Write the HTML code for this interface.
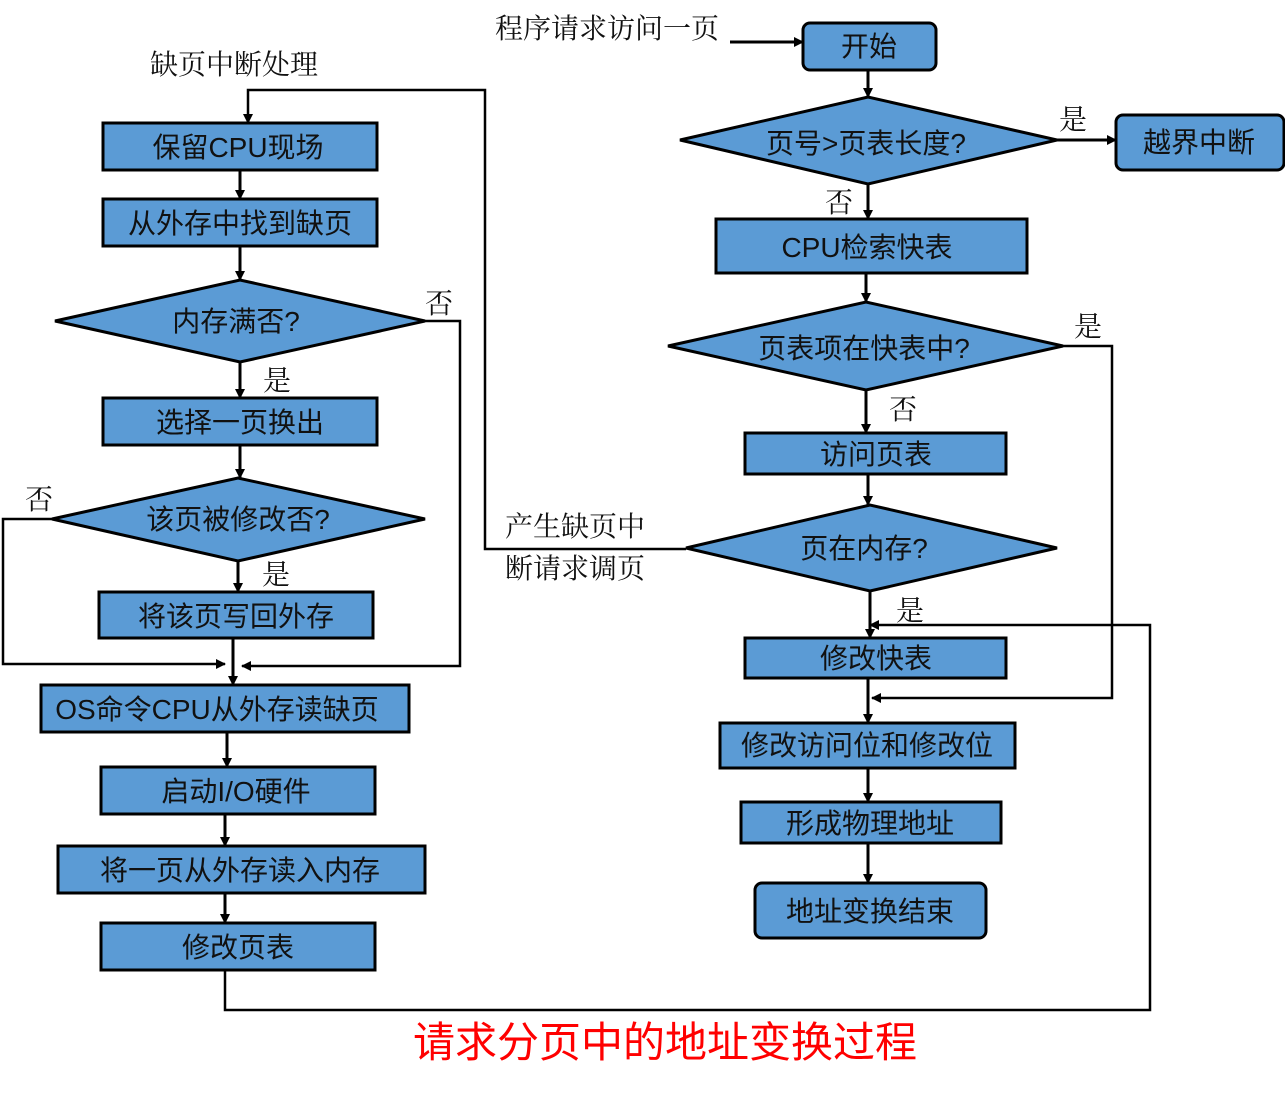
<!DOCTYPE html>
<html><head><meta charset="utf-8"><style>
body{margin:0;background:#fff}
svg text{font-family:"Liberation Sans","Noto Sans CJK SC",sans-serif;fill:#111}
svg .s{font-family:"Liberation Serif","Noto Serif CJK SC",serif}
</style></head><body>
<svg width="1285" height="1094" viewBox="0 0 1285 1094" xmlns="http://www.w3.org/2000/svg">
<defs><marker id="a" markerWidth="10" markerHeight="10" refX="9" refY="5" orient="auto" markerUnits="userSpaceOnUse"><path d="M0,0 L10,5 L0,10 z" fill="#000"/></marker></defs>
<g fill="#5b9bd5" stroke="#000" stroke-width="3">
<rect x="103" y="123" width="274" height="47"/>
<rect x="103" y="199" width="274" height="47"/>
<polygon points="55,321 240,280 425,321 240,362"/>
<rect x="103" y="398" width="274" height="47"/>
<polygon points="52,519 238,478 425,519 238,561"/>
<rect x="99" y="592" width="274" height="46"/>
<rect x="41" y="685" width="368" height="47"/>
<rect x="101" y="767" width="274" height="47"/>
<rect x="58" y="846" width="367" height="47"/>
<rect x="101" y="923" width="274" height="47"/>
<rect x="803" y="23" width="133" height="47" rx="7"/>
<polygon points="680,140 868,97 1057,140 868,184"/>
<rect x="1116" y="115" width="168" height="55" rx="7"/>
<rect x="716" y="219" width="311" height="54"/>
<polygon points="668,346 866,302 1063,346 866,390"/>
<rect x="745" y="433" width="261" height="41"/>
<polygon points="686,548 870,505 1057,548 870,591"/>
<rect x="745" y="638" width="261" height="40"/>
<rect x="720" y="723" width="295" height="45"/>
<rect x="741" y="802" width="260" height="41"/>
<rect x="755" y="883" width="231" height="55" rx="7"/>
</g>
<g stroke="#000" stroke-width="3" fill="none" marker-end="url(#a)">
<path d="M240,170 V199"/><path d="M240,246 V280"/><path d="M240,362 V398"/>
<path d="M240,445 V478"/><path d="M238,561 V592"/>
<path d="M233,638 V685"/><path d="M227,732 V767"/><path d="M225,814 V846"/><path d="M225,893 V923"/>
<path d="M868,70 V97"/><path d="M868,184 V219"/><path d="M866,273 V302"/>
<path d="M866,390 V433"/><path d="M868,474 V505"/><path d="M870,591 V638"/>
<path d="M868,678 V723"/><path d="M868,768 V802"/><path d="M868,843 V883"/>
<path d="M1057,140 H1116"/><path d="M730,42 H803"/>
</g>
<g stroke="#000" stroke-width="2.5" fill="none" marker-end="url(#a)">
<path d="M52,519 H3 V664 H225"/>
<path d="M425,321 H460 V666 H242"/>
<path d="M686,549 H485 V90 H248 V123"/>
<path d="M225,970 V1010 H1150 V625 H870"/>
<path d="M1063,346 H1112 V698 H872"/>
</g>
<g font-size="28" text-anchor="middle">
<text x="238" y="157">保留CPU现场</text>
<text x="240" y="233">从外存中找到缺页</text>
<text x="236" y="331">内存满否?</text>
<text x="240" y="432">选择一页换出</text>
<text x="238" y="529">该页被修改否?</text>
<text x="236" y="626">将该页写回外存</text>
<text x="217" y="719">OS命令CPU从外存读缺页</text>
<text x="236" y="801">启动I/O硬件</text>
<text x="240" y="880">将一页从外存读入内存</text>
<text x="238" y="957">修改页表</text>
<text x="869" y="56">开始</text>
<text x="866" y="153">页号&gt;页表长度?</text>
<text x="1199" y="152">越界中断</text>
<text x="867" y="257">CPU检索快表</text>
<text x="864" y="358">页表项在快表中?</text>
<text x="876" y="464">访问页表</text>
<text x="864" y="558">页在内存?</text>
<text x="876" y="668">修改快表</text>
<text x="867" y="755">修改访问位和修改位</text>
<text x="870" y="833">形成物理地址</text>
<text x="870" y="921">地址变换结束</text>
</g>
<g font-size="28" class="s">
<text class="s" x="495" y="38">程序请求访问一页</text>
<text class="s" x="150" y="74">缺页中断处理</text>
<text class="s" x="425" y="313">否</text>
<text class="s" x="263" y="390">是</text>
<text class="s" x="25" y="509">否</text>
<text class="s" x="262" y="584">是</text>
<text class="s" x="1059" y="129">是</text>
<text class="s" x="825" y="212">否</text>
<text class="s" x="1074" y="336">是</text>
<text class="s" x="889" y="419">否</text>
<text class="s" x="896" y="620">是</text>
<text class="s" x="505" y="536">产生缺页中</text>
<text class="s" x="505" y="578">断请求调页</text>
</g>
<text x="665" y="1057" font-size="42" text-anchor="middle" style="fill:#ff0000">请求分页中的地址变换过程</text>
</svg>
</body></html>
